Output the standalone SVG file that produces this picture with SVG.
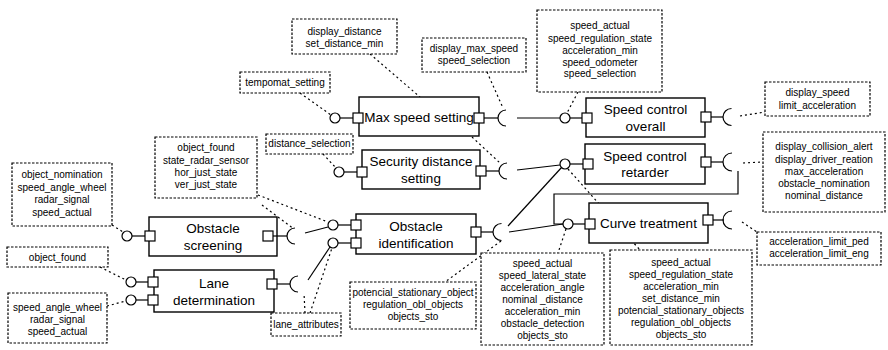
<svg xmlns="http://www.w3.org/2000/svg" width="888" height="350" viewBox="0 0 888 350">
<style>
.box{fill:#fff;stroke:#000;stroke-width:1.4}
.port{fill:#fff;stroke:#000;stroke-width:1.2}
.lol{fill:#fff;stroke:#000;stroke-width:1.2}
.sock{fill:none;stroke:#000;stroke-width:1.2}
.ln{fill:none;stroke:#000;stroke-width:1.2}
.dot{fill:none;stroke:#000;stroke-width:1.2;stroke-dasharray:2 3}
.note{fill:#fff;stroke:#000;stroke-width:1.2;stroke-dasharray:2.5 1.5}
.lbl{font-family:"Liberation Sans",Arial,sans-serif;font-size:13.5px;text-anchor:middle;fill:#000}
.nt{font-family:"Liberation Sans",Arial,sans-serif;font-size:10px;text-anchor:middle;fill:#000}
</style>
<rect width="888" height="350" fill="#fff"/>

<g id="connectors">
  <!-- solid -->
  <line class="ln" x1="517" y1="118" x2="560" y2="118"/>
  <line class="ln" x1="517" y1="170" x2="560" y2="165"/>
  <line class="ln" x1="508" y1="226" x2="562" y2="167"/>
  <line class="ln" x1="509" y1="232" x2="563" y2="224"/>
  <polyline class="ln" points="738,171 738,194 554,194 554,224 563,224"/>
  <line class="ln" x1="305" y1="233" x2="328" y2="227"/>
  <line class="ln" x1="308" y1="280" x2="330" y2="247"/>
  <!-- dotted -->
  <line class="dot" x1="300" y1="93" x2="331" y2="115"/>
  <line class="dot" x1="370" y1="54" x2="420" y2="97"/>
  <line class="dot" x1="487" y1="72" x2="503" y2="108"/>
  <line class="dot" x1="323" y1="154" x2="336" y2="168"/>
  <line class="dot" x1="472" y1="137" x2="500" y2="163"/>
  <line class="dot" x1="578" y1="92" x2="567" y2="113"/>
  <line class="dot" x1="740" y1="116" x2="765" y2="112"/>
  <line class="dot" x1="743" y1="163" x2="763" y2="162"/>
  <line class="dot" x1="742" y1="222" x2="757" y2="232"/>
  <line class="dot" x1="568" y1="169" x2="640" y2="250"/>
  <line class="dot" x1="566" y1="229" x2="558" y2="253"/>
  <line class="dot" x1="501" y1="241" x2="445" y2="282"/>
  <line class="dot" x1="305" y1="313" x2="304" y2="293"/>
  <line class="dot" x1="310" y1="313" x2="332" y2="248"/>
  <line class="dot" x1="258" y1="195" x2="328" y2="222"/>
  <line class="dot" x1="262" y1="205" x2="294" y2="229"/>
  <line class="dot" x1="112" y1="225" x2="123" y2="232"/>
  <line class="dot" x1="100" y1="267" x2="126" y2="280"/>
  <line class="dot" x1="107" y1="306" x2="126" y2="301"/>
</g>

<g id="node-max-speed">
  <rect class="box" x="359" y="97" width="120" height="39"/>
  <text class="lbl" x="419" y="122">Max speed setting</text>
  <line class="ln" x1="340" y1="118" x2="353" y2="118"/>
  <circle class="lol" cx="335" cy="118" r="5"/>
  <rect class="port" x="353" y="113" width="10" height="10"/>
  <rect class="port" x="474" y="113" width="10" height="10"/>
  <line class="ln" x1="484" y1="118" x2="498" y2="118"/>
  <path class="sock" d="M506,110 A8,8 0 0 0 506,126"/>
</g>

<g id="node-security">
  <rect class="box" x="362" y="150" width="118" height="39"/>
  <text class="lbl" x="421" y="166">Security distance</text>
  <text class="lbl" x="421" y="182.5">setting</text>
  <line class="ln" x1="344" y1="172" x2="357" y2="172"/>
  <circle class="lol" cx="339" cy="172" r="5"/>
  <rect class="port" x="357" y="167" width="10" height="10"/>
  <rect class="port" x="476" y="166" width="10" height="10"/>
  <line class="ln" x1="486" y1="171" x2="499" y2="171"/>
  <path class="sock" d="M507,163 A8,8 0 0 0 507,179"/>
</g>

<g id="node-speed-overall">
  <rect class="box" x="586" y="98" width="119" height="39"/>
  <text class="lbl" x="645.5" y="113.5">Speed control</text>
  <text class="lbl" x="645.5" y="130.5">overall</text>
  <circle class="lol" cx="565" cy="118" r="5"/>
  <line class="ln" x1="570" y1="118" x2="582" y2="118"/>
  <rect class="port" x="582" y="113" width="10" height="10"/>
  <rect class="port" x="701" y="112" width="10" height="10"/>
  <line class="ln" x1="711" y1="117" x2="723" y2="117"/>
  <path class="sock" d="M731.5,108.5 A8.5,8.5 0 0 0 731.5,125.5"/>
</g>

<g id="node-speed-retarder">
  <rect class="box" x="585" y="144" width="120" height="40"/>
  <text class="lbl" x="645" y="160.5">Speed control</text>
  <text class="lbl" x="645" y="177">retarder</text>
  <circle class="lol" cx="565" cy="164" r="5"/>
  <line class="ln" x1="570" y1="164" x2="583" y2="164"/>
  <rect class="port" x="583" y="159" width="10" height="10"/>
  <rect class="port" x="701" y="157" width="10" height="10"/>
  <line class="ln" x1="711" y1="162" x2="723" y2="162"/>
  <path class="sock" d="M732,153 A9,9 0 0 0 732,171"/>
</g>

<g id="node-curve">
  <rect class="box" x="589" y="203" width="119" height="40"/>
  <text class="lbl" x="648.5" y="227.5">Curve treatment</text>
  <circle class="lol" cx="568" cy="224" r="5"/>
  <line class="ln" x1="573" y1="224" x2="585" y2="224"/>
  <rect class="port" x="585" y="219" width="10" height="10"/>
  <rect class="port" x="703" y="215" width="10" height="10"/>
  <line class="ln" x1="713" y1="220" x2="724" y2="220"/>
  <path class="sock" d="M732,211 A9,9 0 0 0 732,229"/>
</g>

<g id="node-obstacle-id">
  <rect class="box" x="356" y="214" width="120" height="40"/>
  <text class="lbl" x="416" y="231">Obstacle</text>
  <text class="lbl" x="416" y="247.5">identification</text>
  <circle class="lol" cx="333" cy="225" r="5"/>
  <line class="ln" x1="338" y1="225" x2="351" y2="225"/>
  <rect class="port" x="351" y="220" width="10" height="10"/>
  <circle class="lol" cx="333" cy="243" r="5"/>
  <line class="ln" x1="338" y1="243" x2="351" y2="243"/>
  <rect class="port" x="351" y="238" width="10" height="10"/>
  <rect class="port" x="471" y="227" width="10" height="10"/>
  <line class="ln" x1="481" y1="232" x2="493" y2="232"/>
  <path class="sock" d="M501.5,223.5 A8.5,8.5 0 0 0 501.5,240.5"/>
</g>

<g id="node-obstacle-screening">
  <rect class="box" x="149" y="217" width="128" height="39"/>
  <text class="lbl" x="213" y="233">Obstacle</text>
  <text class="lbl" x="213" y="249.5">screening</text>
  <circle class="lol" cx="127" cy="236" r="5"/>
  <line class="ln" x1="132" y1="236" x2="145" y2="236"/>
  <rect class="port" x="145" y="231" width="10" height="10"/>
  <rect class="port" x="263" y="231" width="10" height="10"/>
  <line class="ln" x1="273" y1="236" x2="287" y2="236"/>
  <path class="sock" d="M295,228 A8,8 0 0 0 295,244"/>
</g>

<g id="node-lane">
  <rect class="box" x="154" y="270" width="120" height="42"/>
  <text class="lbl" x="214" y="288">Lane</text>
  <text class="lbl" x="214" y="305">determination</text>
  <circle class="lol" cx="131" cy="282" r="5"/>
  <line class="ln" x1="136" y1="282" x2="148" y2="282"/>
  <rect class="port" x="148" y="277" width="10" height="10"/>
  <circle class="lol" cx="131" cy="300" r="5"/>
  <line class="ln" x1="136" y1="300" x2="148" y2="300"/>
  <rect class="port" x="148" y="295" width="10" height="10"/>
  <rect class="port" x="267" y="279" width="10" height="10"/>
  <line class="ln" x1="277" y1="284" x2="290" y2="284"/>
  <path class="sock" d="M298,276 A8,8 0 0 0 298,292"/>
</g>

<g id="note-display-distance">
  <rect class="note" x="292" y="19" width="105" height="35"/>
  <text class="nt" x="344.5" y="35">display_distance</text>
  <text class="nt" x="344.5" y="46.5">set_distance_min</text>
</g>
<g id="note-display-max-speed">
  <rect class="note" x="422" y="38" width="104" height="34"/>
  <text class="nt" x="474" y="52">display_max_speed</text>
  <text class="nt" x="474" y="64">speed_selection</text>
</g>
<g id="note-tempomat">
  <rect class="note" x="240" y="72" width="90" height="21"/>
  <text class="nt" x="285" y="86">tempomat_setting</text>
</g>
<g id="note-distance-selection">
  <rect class="note" x="266" y="134" width="87" height="20"/>
  <text class="nt" x="309.5" y="147">distance_selection</text>
</g>
<g id="note-speed-overall-in">
  <rect class="note" x="537" y="10" width="125" height="82"/>
  <text class="nt" x="600" y="29">speed_actual</text>
  <text class="nt" x="600" y="41.5">speed_regulation_state</text>
  <text class="nt" x="600" y="53.5">acceleration_min</text>
  <text class="nt" x="600" y="65.5">speed_odometer</text>
  <text class="nt" x="600" y="77">speed_selection</text>
</g>
<g id="note-display-speed">
  <rect class="note" x="765" y="82" width="105" height="34"/>
  <text class="nt" x="817.5" y="96">display_speed</text>
  <text class="nt" x="817.5" y="108.5">limit_acceleration</text>
</g>
<g id="note-retarder-out">
  <rect class="note" x="763" y="132" width="122" height="80"/>
  <text class="nt" x="824" y="150">display_collision_alert</text>
  <text class="nt" x="824" y="162.5">display_driver_reation</text>
  <text class="nt" x="824" y="174.5">max_acceleration</text>
  <text class="nt" x="824" y="187">obstacle_nomination</text>
  <text class="nt" x="824" y="199">nominal_distance</text>
</g>
<g id="note-accel-limit">
  <rect class="note" x="757" y="232" width="124" height="33"/>
  <text class="nt" x="819" y="244.5">acceleration_limit_ped</text>
  <text class="nt" x="819" y="257">acceleration_limit_eng</text>
</g>
<g id="note-curve-in">
  <rect class="note" x="481" y="253" width="123" height="92"/>
  <text class="nt" x="542.5" y="267">speed_actual</text>
  <text class="nt" x="542.5" y="279">speed_lateral_state</text>
  <text class="nt" x="542.5" y="291">acceleration_angle</text>
  <text class="nt" x="542.5" y="303">nominal _distance</text>
  <text class="nt" x="542.5" y="315">acceleration_min</text>
  <text class="nt" x="542.5" y="327">obstacle_detection</text>
  <text class="nt" x="542.5" y="339">objects_sto</text>
</g>
<g id="note-retarder-in">
  <rect class="note" x="610" y="250" width="142" height="95"/>
  <text class="nt" x="681" y="266">speed_actual</text>
  <text class="nt" x="681" y="278">speed_regulation_state</text>
  <text class="nt" x="681" y="290">acceleration_min</text>
  <text class="nt" x="681" y="302">set_distance_min</text>
  <text class="nt" x="681" y="314">potencial_stationary_objects</text>
  <text class="nt" x="681" y="326">regulation_obl_objects</text>
  <text class="nt" x="681" y="338">objects_sto</text>
</g>
<g id="note-obstacle-id-out">
  <rect class="note" x="350" y="282" width="126" height="47"/>
  <text class="nt" x="413" y="296">potencial_stationary_object</text>
  <text class="nt" x="413" y="308">regulation_obl_objects</text>
  <text class="nt" x="413" y="320">objects_sto</text>
</g>
<g id="note-lane-attributes">
  <rect class="note" x="271" y="313" width="70" height="23"/>
  <text class="nt" x="306" y="328">lane_attributes</text>
</g>
<g id="note-object-found-state">
  <rect class="note" x="155" y="137" width="102" height="61"/>
  <text class="nt" x="206" y="151">object_found</text>
  <text class="nt" x="206" y="163.5">state_radar_sensor</text>
  <text class="nt" x="206" y="175.5">hor_just_state</text>
  <text class="nt" x="206" y="187.5">ver_just_state</text>
</g>
<g id="note-object-nomination">
  <rect class="note" x="12" y="163" width="100" height="63"/>
  <text class="nt" x="62" y="178">object_nomination</text>
  <text class="nt" x="62" y="190.5">speed_angle_wheel</text>
  <text class="nt" x="62" y="203">radar_signal</text>
  <text class="nt" x="62" y="215.5">speed_actual</text>
</g>
<g id="note-object-found">
  <rect class="note" x="7" y="247" width="101" height="20"/>
  <text class="nt" x="57.5" y="261">object_found</text>
</g>
<g id="note-speed-angle">
  <rect class="note" x="8" y="293" width="99" height="50"/>
  <text class="nt" x="57.5" y="311">speed_angle_wheel</text>
  <text class="nt" x="57.5" y="323">radar_signal</text>
  <text class="nt" x="57.5" y="335">speed_actual</text>
</g>
</svg>
